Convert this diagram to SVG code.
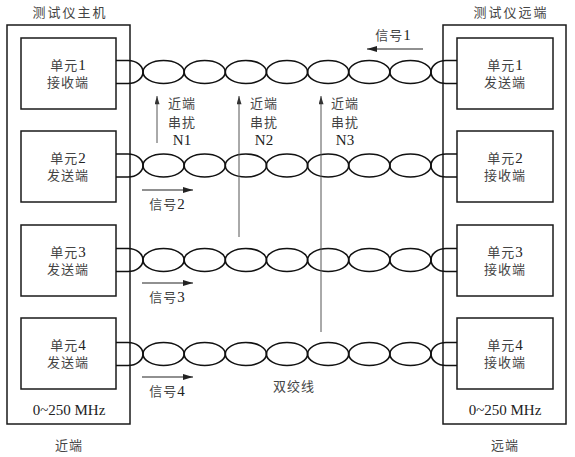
<svg xmlns="http://www.w3.org/2000/svg" xmlns:xlink="http://www.w3.org/1999/xlink" width="575" height="457" viewBox="0 0 575 457">
<style>
.box{fill:none;stroke:#1a1a1a;stroke-width:1.5}
.cab{fill:none;stroke:#111;stroke-width:1.6}
.t{font-family:"Liberation Serif","Noto Sans CJK SC",serif;font-size:13px;fill:#444;text-anchor:middle;letter-spacing:1px}
.d{font-size:15px;fill:#222;letter-spacing:0}
.n{font-family:"Liberation Serif","Noto Sans CJK SC",serif;font-size:15px;fill:#222;text-anchor:middle}
.sig{stroke:#222;stroke-width:1.2;fill:none}
.nx{stroke:#555;stroke-width:1;fill:none}
</style>
<defs>
<marker id="ah" viewBox="0 0 10 6" refX="10" refY="3" markerWidth="10" markerHeight="6" markerUnits="userSpaceOnUse" orient="auto">
<path d="M0,0 L10,3 L0,6 Z" fill="#222"/>
</marker>
<marker id="ah2" viewBox="0 0 10 6" refX="10" refY="3" markerWidth="11" markerHeight="5" markerUnits="userSpaceOnUse" orient="auto">
<path d="M0,0 L10,3 L0,6 Z" fill="#333"/>
</marker>
<g id="cable">
<path class="cab" d="M116,-11.5 H128 A15,11.5 0 0 1 143,0 A15,11.5 0 0 1 128,11.5 H116"/>
<path class="cab" d="M457,-11.5 H446 A15,11.5 0 0 0 431,0 A15,11.5 0 0 0 446,11.5 H457"/>
<ellipse class="cab" cx="163.57" cy="0" rx="20.57" ry="11.5"/>
<ellipse class="cab" cx="204.71" cy="0" rx="20.57" ry="11.5"/>
<ellipse class="cab" cx="245.86" cy="0" rx="20.57" ry="11.5"/>
<ellipse class="cab" cx="287" cy="0" rx="20.57" ry="11.5"/>
<ellipse class="cab" cx="328.14" cy="0" rx="20.57" ry="11.5"/>
<ellipse class="cab" cx="369.29" cy="0" rx="20.57" ry="11.5"/>
<ellipse class="cab" cx="410.43" cy="0" rx="20.57" ry="11.5"/>
</g>
</defs>

<g id="near-host">
<rect class="box" x="7" y="25" width="123" height="399"/>
<text class="t" x="70" y="17" style="letter-spacing:2px">测试仪主机</text>
<text class="n" x="69" y="415">0~250 MHz</text>
<text class="t" x="69" y="450">近端</text>
</g>
<g id="far-host">
<rect class="box" x="443" y="25" width="123" height="399"/>
<text class="t" x="511" y="17" style="letter-spacing:2px">测试仪远端</text>
<text class="n" x="505" y="415">0~250 MHz</text>
<text class="t" x="505" y="450">远端</text>
</g>

<g id="near-unit1"><rect class="box" x="21" y="38" width="95" height="71"/><text class="t" x="68" y="70">单元<tspan class="d">1</tspan></text><text class="t" x="68" y="87">接收端</text></g>
<g id="near-unit2"><rect class="box" x="21" y="131" width="95" height="71"/><text class="t" x="68" y="163">单元<tspan class="d">2</tspan></text><text class="t" x="68" y="180">发送端</text></g>
<g id="near-unit3"><rect class="box" x="21" y="225" width="95" height="71"/><text class="t" x="68" y="257">单元<tspan class="d">3</tspan></text><text class="t" x="68" y="274">发送端</text></g>
<g id="near-unit4"><rect class="box" x="21" y="318" width="95" height="71"/><text class="t" x="68" y="350">单元<tspan class="d">4</tspan></text><text class="t" x="68" y="367">发送端</text></g>

<g id="far-unit1"><rect class="box" x="457" y="38" width="96" height="71"/><text class="t" x="505" y="70">单元<tspan class="d">1</tspan></text><text class="t" x="505" y="87">发送端</text></g>
<g id="far-unit2"><rect class="box" x="457" y="131" width="96" height="71"/><text class="t" x="505" y="163">单元<tspan class="d">2</tspan></text><text class="t" x="505" y="180">接收端</text></g>
<g id="far-unit3"><rect class="box" x="457" y="225" width="96" height="71"/><text class="t" x="505" y="257">单元<tspan class="d">3</tspan></text><text class="t" x="505" y="274">接收端</text></g>
<g id="far-unit4"><rect class="box" x="457" y="318" width="96" height="71"/><text class="t" x="505" y="350">单元<tspan class="d">4</tspan></text><text class="t" x="505" y="367">接收端</text></g>

<g id="connectors">
<use xlink:href="#cable" href="#cable" transform="translate(0,72)"/>
<use xlink:href="#cable" href="#cable" transform="translate(0,165.5)"/>
<use xlink:href="#cable" href="#cable" transform="translate(0,260)"/>
<use xlink:href="#cable" href="#cable" transform="translate(0,354)"/>
<line class="sig" x1="423" y1="49" x2="367" y2="49" marker-end="url(#ah)"/>
<line class="sig" x1="142" y1="190" x2="193" y2="190" marker-end="url(#ah)"/>
<line class="sig" x1="142" y1="283" x2="193" y2="283" marker-end="url(#ah)"/>
<line class="sig" x1="142" y1="377" x2="193" y2="377" marker-end="url(#ah)"/>
<line class="nx" x1="157" y1="143" x2="157" y2="96" marker-end="url(#ah2)"/>
<line class="nx" x1="239" y1="237" x2="239" y2="96" marker-end="url(#ah2)"/>
<line class="nx" x1="321" y1="332" x2="321" y2="96" marker-end="url(#ah2)"/>
</g>

<g id="labels">
<text class="t" x="393" y="40">信号<tspan class="d">1</tspan></text>
<text class="t" x="167" y="209">信号<tspan class="d">2</tspan></text>
<text class="t" x="167" y="302">信号<tspan class="d">3</tspan></text>
<text class="t" x="167" y="396">信号<tspan class="d">4</tspan></text>
<text class="t" x="182" y="108">近端</text>
<text class="t" x="182" y="127">串扰</text>
<text class="n" x="182" y="145">N1</text>
<text class="t" x="264" y="108">近端</text>
<text class="t" x="264" y="127">串扰</text>
<text class="n" x="264" y="145">N2</text>
<text class="t" x="345" y="108">近端</text>
<text class="t" x="345" y="127">串扰</text>
<text class="n" x="345" y="145">N3</text>
<text class="t" x="294" y="391">双绞线</text>
</g>
</svg>
